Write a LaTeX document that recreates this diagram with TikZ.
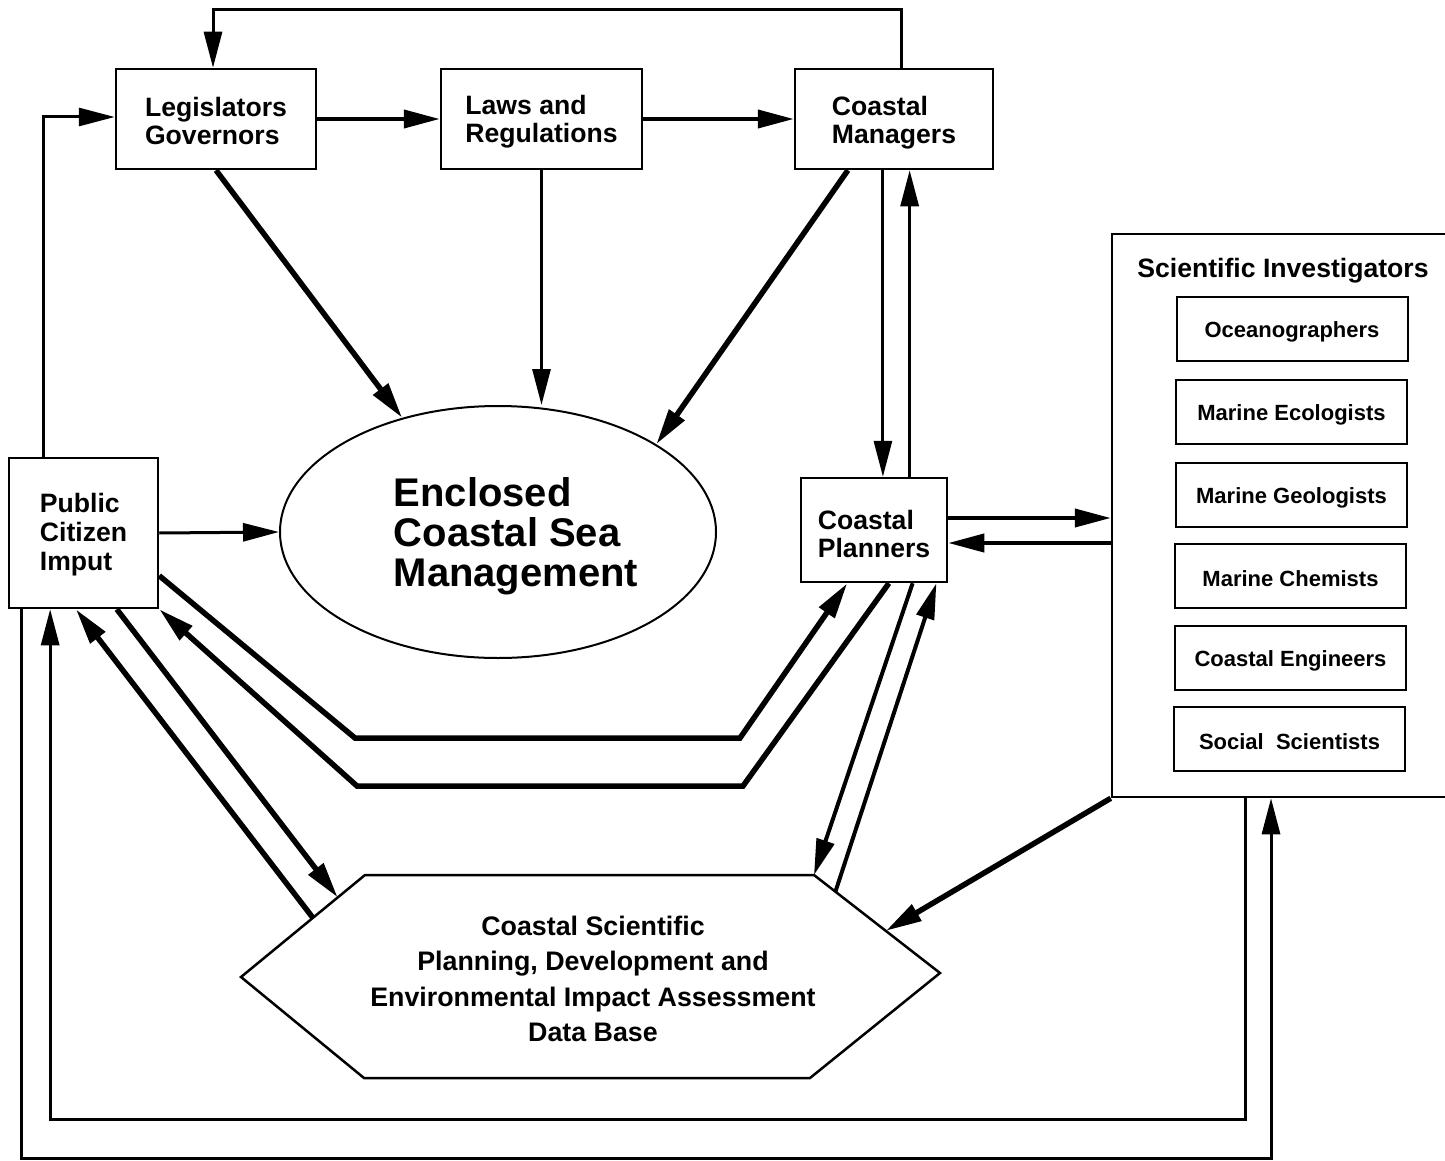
\documentclass[tikz,border=0pt]{standalone}
\usepackage{fontspec}
\setmainfont{Liberation Sans}
\usetikzlibrary{arrows.meta,calc,shapes.geometric}
\begin{document}
\begin{tikzpicture}[x=0.5pt,y=-0.5pt,
  box/.style={draw,line width=1.25pt,inner sep=0pt},
  lbl/.style={inner sep=0pt,align=left,font=\fontsize{13.3}{14}\selectfont\bfseries},
  sub/.style={draw,line width=1pt,inner sep=0pt,minimum width=115.5pt,minimum height=32pt},
  slbl/.style={inner sep=0pt,yshift=-1.5pt,font=\fontsize{11}{13}\selectfont\bfseries},
  arr/.style={-{Triangle[length=18pt,width=9pt]}},
  wA/.style={line width=1.5pt},
  wB/.style={line width=2pt},
  wC/.style={line width=2.75pt},
  ]
\useasboundingbox (0,0) rectangle (1445,1161);
\clip (0,0) rectangle (1445,1161);

% boxes
\node[box,minimum width=100pt,minimum height=50pt,label={[lbl,yshift=-1pt]center:{Legislators\\Governors}}] (leg) at (216,119) {};
\node[box,minimum width=100.5pt,minimum height=50pt,label={[lbl,yshift=-1.5pt]center:{Laws and\\Regulations}}] (laws) at (541.5,119) {};
\node[box,minimum width=99pt,minimum height=50pt,label={[lbl,yshift=-2pt]center:{Coastal\\Managers}}] (mgr) at (894,119) {};
\node[box,minimum width=74.5pt,minimum height=75pt,label={[lbl,yshift=-1pt,font=\fontsize{13.3}{14.5}\selectfont\bfseries]center:{Public\\Citizen\\Imput}}] (pub) at (83.5,533) {};
\node[box,minimum width=73pt,minimum height=52pt,label={[lbl,yshift=-2pt]center:{Coastal\\Planners}}] (pln) at (874,530) {};

% central ellipse
\node[ellipse,draw,line width=1pt,inner sep=0pt,minimum width=218pt,minimum height=126pt] (ell) at (498,532) {};
\node[align=left,inner sep=0pt,font=\fontsize{20}{20}\selectfont\bfseries] (elltxt) at (516,536) {Enclosed\\Coastal Sea\\Management};

% scientific investigators
\node[draw,line width=1.25pt,inner sep=0pt,minimum width=174pt,minimum height=281.5pt] (sci) at (1286,515.5) {};
\node[inner sep=0pt,font=\fontsize{13.3}{14}\selectfont\bfseries] (scitxt) at (1283,271) {Scientific Investigators};
\node[sub,label={[slbl]center:Oceanographers}] (s1) at (1292,329) {};
\node[sub,label={[slbl]center:Marine Ecologists}] (s2) at (1291.5,411.5) {};
\node[sub,label={[slbl]center:Marine Geologists}] (s3) at (1291.5,494.5) {};
\node[sub,label={[slbl]center:Marine Chemists}] (s4) at (1290.5,575.5) {};
\node[sub,label={[slbl]center:Coastal Engineers}] (s5) at (1290.5,657.5) {};
\node[sub,label={[slbl]center:{Social\ \ Scientists}}] (s6) at (1289.5,739) {};

% hexagon
\coordinate (h1) at (365,875);
\coordinate (h2) at (814,875);
\coordinate (h3) at (940,973);
\coordinate (h4) at (810,1078);
\coordinate (h5) at (364,1078);
\coordinate (h6) at (241,977);
\draw[line width=1.25pt,line join=miter] (h1) -- (h2) -- (h3) -- (h4) -- (h5) -- (h6) -- cycle;
\node[align=center,inner sep=0pt,font=\fontsize{13.4}{17.6}\selectfont\bfseries] (hex) at (593,979)
  {Coastal Scientific\\Planning, Development and\\Environmental Impact Assessment\\Data Base};

% helper coordinates
\coordinate (topL) at (213,10);
\coordinate (topR) at (901,10);
\coordinate (pl) at (43,117);
\coordinate (mdn) at ($(pln.north west)!0.56!(pln.north east)$);
\coordinate (mup) at ($(pln.north west)!0.74!(pln.north east)$);
\coordinate (r1) at (1000,518);
\coordinate (r2) at (1000,543);
\coordinate (b1) at (355,738);
\coordinate (b2) at (740,738);
\coordinate (c1) at (743,786);
\coordinate (c2) at (357,786);
\coordinate (ob) at (1271,1158);
\coordinate (ib) at (1245,1119);
\coordinate (pO) at ($(pub.south west)!0.09!(pub.south east)$);
\coordinate (pI) at ($(pub.south west)!0.28!(pub.south east)$);

% top connectors
\draw[wA,arr] (topR |- mgr.north) -- (topR) -- (topL) -- (topL |- leg.north);
\draw[wA,arr] (pl |- pub.north) -- (pl) -- (pl -| leg.west);
\draw[wB,arr] (leg.east) -- (laws.west);
\draw[wB,arr] (laws.east) -- (mgr.west);

% to the ellipse
\draw[wC,arr] (leg.south) -- (ell.130);
\draw[wA,arr] (laws.south) -- (laws.south |- ell.north);
\draw[wC,arr] ($(mgr.south west)!0.27!(mgr.south east)$) -- (ell.29);
\draw[wA,arr] (pub.east) -- (ell.west);

% managers <-> planners
\draw[wA,arr] (mdn |- mgr.south) -- (mdn);
\draw[wA,arr] (mup) -- (mup |- mgr.south);

% planners <-> scientists
\draw[wB,arr] (pln.east |- r1) -- (sci.west |- r1);
\draw[wB,arr] (sci.west |- r2) -- (pln.east |- r2);

% public <-> planners
\draw[wC,arr] ($(pub.north east)!0.78!(pub.south east)$) -- (b1) -- (b2) -- ($(pln.south west)!0.32!(pln.south east)$);
\draw[wC,arr] ($(pln.south west)!0.6!(pln.south east)$) -- (c1) -- (c2) -- (pub.south east);

% public <-> data base
\draw[wC,arr] ($(pub.south west)!0.72!(pub.south east)$) -- ($(h1)!0.22!(h6)$);
\draw[wC,arr] ($(h1)!0.42!(h6)$) -- ($(pub.south west)!0.45!(pub.south east)$);

% planners <-> data base
\draw[wB,arr] ($(pln.south west)!0.76!(pln.south east)$) -- (h2);
\draw[wB,arr] ($(h2)!0.17!(h3)$) -- ($(pln.south west)!0.92!(pln.south east)$);

% scientists -> data base
\draw[wC,arr] (sci.south west) -- ($(h2)!0.57!(h3)$);

% outer loops
\draw[wA,arr] (pO) -- (pO |- ob) -- (ob) -- (ob |- sci.south);
\draw[wA,arr] (ib |- sci.south) -- (ib) -- (pI |- ib) -- (pI);
\end{tikzpicture}
\end{document}
